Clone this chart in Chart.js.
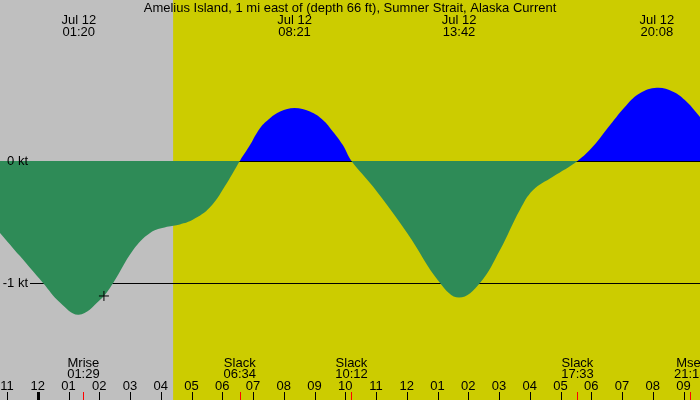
<!DOCTYPE html>
<html>
<head>
<meta charset="utf-8">
<script src="https://cdn.jsdelivr.net/npm/chart.js@4/dist/chart.umd.min.js"></script>
<style>
  html, body { margin: 0; padding: 0; background: #fff; }
  #wrap { width: 700px; height: 400px; }
</style>
</head>
<body>
<div id="wrap"><canvas id="tide"></canvas></div>
<script>
const title = 'Amelius Island, 1 mi east of (depth 66 ft), Sumner Strait, Alaska Current'

// hours after midnight Jul 12, current speed in knots
const hours = [-1.23, -0.58, 0.17, 0.72, 1.33, 2.02, 2.45, 3.10, 3.65, 4.20, 4.62, 5.05, 5.60, 6.15, 6.57,
  6.90, 7.23, 7.55, 7.88, 8.35, 8.85, 9.27, 9.60, 9.92, 10.20,
  10.90, 12.01, 13.08, 13.70, 14.38, 15.03, 15.68, 16.10, 16.75, 17.55,
  18.06, 18.61, 19.15, 19.58, 20.13, 20.66, 21.10, 21.54]
const speeds = [-0.59, -0.78, -1.00, -1.16, -1.26, -1.14, -1.00, -0.73, -0.59, -0.54, -0.52, -0.48, -0.38, -0.18, 0,
  0.13, 0.27, 0.35, 0.405, 0.435, 0.405, 0.336, 0.24, 0.13, 0,
  -0.21, -0.59, -1.00, -1.12, -1.00, -0.73, -0.40, -0.24, -0.13, 0,
  0.12, 0.295, 0.46, 0.555, 0.60, 0.568, 0.486, 0.36]

const peakHours = [1.333, 8.35, 13.70, 20.133]
const peakLabels = ['01:20', '08:21', '13:42', '20:08']
const eventHours = [1.483, 6.567, 10.2, 17.55, 21.217]
const eventNames = ['Mrise', 'Slack', 'Slack', 'Slack', 'Mset']
const eventLabels = ['01:29', '06:34', '10:12', '17:33', '21:13']
const tickHours = [-1, 0, 1, 2, 3, 4, 5, 6, 7, 8, 9, 10, 11, 12, 13, 14, 15, 16, 17, 18, 19, 20, 21]
const levels = [0, -1]
const levelLabels = ['0 kt', '-1 kt']
const sunrise = 4.40
const sunset = 21.7
const markerHour = 2.15
const markerSpeed = -1.107

const font = '13px "Liberation Sans", Arial, sans-serif'

function hourLabel(h) {
  const v = ((h % 12) + 12 + 11) % 12 + 1
  return String(v).padStart(2, '0')
}

const curve = hours.map((h, i) => ({ x: h, y: speeds[i] }))

const tidePlugin = {
  id: 'tide',
  beforeDraw(chart) {
    const { ctx, chartArea: a, scales: { x } } = chart
    ctx.save()
    ctx.fillStyle = '#bfbfbf'
    ctx.fillRect(a.left, a.top, a.right - a.left, a.bottom - a.top)
    const x1 = x.getPixelForValue(sunrise)
    const x2 = Math.min(x.getPixelForValue(sunset), a.right)
    ctx.fillStyle = '#cccc00'
    ctx.fillRect(x1, a.top, x2 - x1, a.bottom - a.top)
    ctx.restore()
  },
  afterDatasetDraw(chart, args) {
    // level lines go over the flood fill but under the ebb fill
    if (args.index !== 2) return
    const { ctx, chartArea: a, scales: { y } } = chart
    ctx.save()
    ctx.strokeStyle = '#000'
    ctx.lineWidth = 1
    levels.forEach(v => {
      const py = Math.round(y.getPixelForValue(v)) + 0.5
      ctx.beginPath()
      ctx.moveTo(30, py)
      ctx.lineTo(a.right, py)
      ctx.stroke()
    })
    ctx.restore()
  },
  afterDraw(chart) {
    const { ctx, scales: { x, y } } = chart
    ctx.save()
    ctx.font = font
    ctx.fillStyle = '#000'
    ctx.textBaseline = 'alphabetic'
    ctx.textAlign = 'center'
    ctx.fillText(title, 350, 12)

    peakHours.forEach((h, i) => {
      const px = x.getPixelForValue(h)
      ctx.fillText('Jul 12', px, 24)
      ctx.fillText(peakLabels[i], px, 36)
    })

    eventHours.forEach((h, i) => {
      const px = x.getPixelForValue(h)
      ctx.fillText(eventNames[i], px, 367)
      ctx.fillText(eventLabels[i], px, 378)
    })

    tickHours.forEach(h => {
      const px = x.getPixelForValue(h)
      ctx.fillText(hourLabel(h), px, 390)
      if (h === 0) {
        ctx.fillRect(Math.round(px) - 1, 392, 3, 8)
      } else {
        ctx.fillRect(Math.round(px), 392, 1, 8)
      }
    })

    ctx.fillStyle = '#ff0000'
    eventHours.forEach(h => {
      const px = x.getPixelForValue(h)
      ctx.fillRect(Math.round(px), 392, 1, 8)
    })

    ctx.fillStyle = '#000'
    ctx.textAlign = 'right'
    ctx.textBaseline = 'middle'
    levels.forEach((v, i) => {
      ctx.fillText(levelLabels[i], 28, y.getPixelForValue(v))
    })
    ctx.restore()
  }
}

new Chart(document.getElementById('tide'), {
  type: 'line',
  data: {
    datasets: [
      {
        type: 'scatter',
        data: [{ x: markerHour, y: markerSpeed }],
        pointStyle: 'cross',
        pointRadius: 5,
        borderColor: '#000',
        borderWidth: 1
      },
      {
        label: 'ebb',
        data: curve,
        borderWidth: 0,
        pointRadius: 0,
        tension: 0.4,
        fill: { target: 'origin', above: 'rgba(0,0,0,0)', below: '#2e8b57' }
      },
      {
        label: 'flood',
        data: curve,
        borderWidth: 0,
        pointRadius: 0,
        tension: 0.4,
        fill: { target: 'origin', above: '#0000ff', below: 'rgba(0,0,0,0)' }
      }
    ]
  },
  options: {
    responsive: true,
    maintainAspectRatio: false,
    animation: false,
    layout: { padding: 0, autoPadding: false },
    plugins: {
      legend: { display: false },
      tooltip: { enabled: false }
    },
    scales: {
      x: { type: 'linear', min: -1.23, max: 21.535, display: false },
      y: { min: -1.96, max: 1.32, display: false }
    }
  },
  plugins: [tidePlugin]
})
</script>
</body>
</html>
